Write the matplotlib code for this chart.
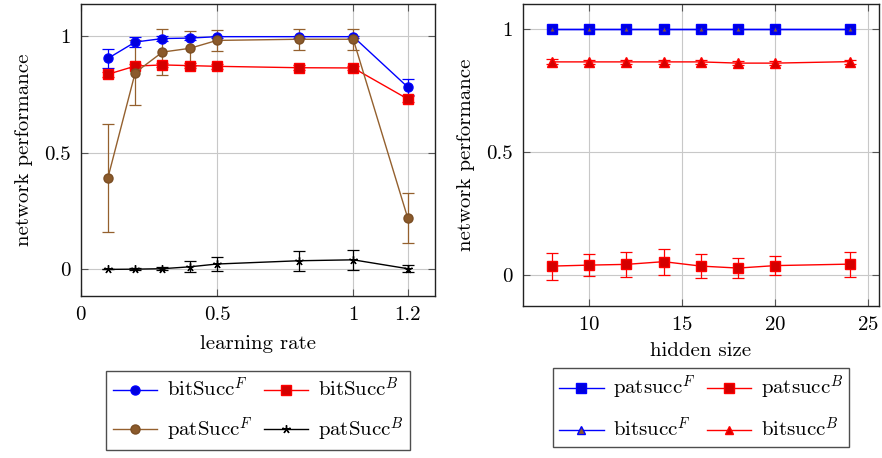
import matplotlib
matplotlib.use("Agg")
import matplotlib.pyplot as plt
from matplotlib.lines import Line2D
import numpy as np

plt.rcParams['font.family'] = ['cmr10', 'DejaVu Serif']
plt.rcParams['mathtext.fontset'] = 'cm'
plt.rcParams['axes.formatter.use_mathtext'] = True
plt.rcParams['axes.unicode_minus'] = False

# ---- Left panel data ----
lr = [0.1, 0.2, 0.3, 0.4, 0.5, 0.8, 1.0, 1.2]
bitF = [0.904, 0.974, 0.989, 0.991, 0.997, 0.997, 0.997, 0.781]
bitF_err = [0.04, 0.02, 0.01, 0.01, 0.005, 0.005, 0.005, 0.036]
bitB = [0.836, 0.871, 0.876, 0.873, 0.870, 0.864, 0.863, 0.730]
bitB_err = [0.01, 0.01, 0.01, 0.01, 0.01, 0.01, 0.01, 0.012]
patF = [0.393, 0.843, 0.931, 0.947, 0.981, 0.986, 0.986, 0.220]
patF_err = [0.232, 0.14, 0.10, 0.076, 0.045, 0.045, 0.044, 0.106]
patB = [0.0, 0.001, 0.003, 0.011, 0.023, 0.037, 0.041, 0.003]
patB_err = [0.0, 0.003, 0.006, 0.024, 0.032, 0.042, 0.043, 0.016]
lr_ticks = [0, 0.5, 1, 1.2]
lr_ticklabels = ['0', '0.5', '1', '1.2']

# ---- Right panel data ----
hs = [8, 10, 12, 14, 16, 18, 20, 24]
patsF = [1.0, 1.0, 1.0, 1.0, 1.0, 1.0, 1.0, 1.0]
patsB = [0.036, 0.040, 0.043, 0.054, 0.036, 0.028, 0.038, 0.044]
patsB_err = [0.055, 0.046, 0.052, 0.053, 0.049, 0.041, 0.040, 0.051]
bitsF = [1.0, 1.0, 1.0, 1.0, 1.0, 1.0, 1.0, 1.0]
bitsB = [0.865, 0.865, 0.865, 0.865, 0.865, 0.860, 0.860, 0.866]
bitsB_err = [0.01, 0.008, 0.008, 0.008, 0.008, 0.008, 0.008, 0.008]
hs_ticks = [10, 15, 20, 25]
y_ticks = [0, 0.5, 1]
y_ticklabels = ['0', '0.5', '1']

W, H = 882, 458
fig = plt.figure(figsize=(W / 100, H / 100), dpi=100)

def frac(l, r, t, b):
    return [l / W, 1 - b / H, (r - l) / W, (b - t) / H]

ax1 = fig.add_axes(frac(80.7, 435, 4, 296))
ax2 = fig.add_axes(frac(522.7, 879, 4, 306))

FS = 15
lw = 1.0
ms = 6.5
cs = 4.5
elw = 0.9

def style(ax):
    ax.grid(True, color='#c8c8c8', linewidth=0.8)
    ax.set_axisbelow(True)
    ax.tick_params(direction='in', top=True, right=True, labelsize=FS,
                   length=5, width=0.8, color='#555555', pad=7)
    for s in ax.spines.values():
        s.set_linewidth(1.0)
        s.set_color('#222222')

blue, red, brown, black = '#0000ff', '#ff0000', '#94602e', '#000000'
bluef, redf, brownf = '#0000dd', '#d40000', '#8b5a2b'
star = (5, 2, 0)

# Left
specs1 = [
    (bitF, bitF_err, blue, 'o', bluef, blue, ms, r'bitSucc$^F$'),
    (bitB, bitB_err, red, 's', redf, red, ms, r'bitSucc$^B$'),
    (patF, patF_err, brown, 'o', brownf, '#7a4e24', ms, r'patSucc$^F$'),
    (patB, patB_err, black, star, black, black, 6, r'patSucc$^B$'),
]
handles1 = []
for y, e, c, m, mf, me, s, lab in specs1:
    ax1.errorbar(lr, y, yerr=e, color=c, lw=lw, marker=m, ms=s, mfc=mf, mec=me,
                 capsize=cs, elinewidth=elw, capthick=elw)
    handles1.append(Line2D([], [], color=c, lw=lw, marker=m, ms=s, mfc=mf, mec=me, label=lab))
ax1.set_xlim(0, 1.3)
ax1.set_ylim(-0.114, 1.137)
ax1.set_xticks(lr_ticks)
ax1.set_xticklabels(lr_ticklabels)
ax1.set_yticks(y_ticks)
ax1.set_yticklabels(y_ticklabels)
ax1.set_xlabel('learning rate', fontsize=FS, labelpad=8)
ax1.set_ylabel('network performance', fontsize=FS, labelpad=8)
style(ax1)

# Right
ax2.errorbar(hs, patsF, color=blue, lw=lw, marker='s', ms=ms, mfc=bluef, mec=blue)
ax2.errorbar(hs, patsB, yerr=patsB_err, color=red, lw=lw, marker='s', ms=ms,
             mfc=redf, mec=red, capsize=cs, elinewidth=elw, capthick=elw)
ax2.errorbar(hs, bitsF, color=blue, lw=lw, marker='^', ms=ms * 0.55,
             mfc=brownf, mec=blue, mew=0.6)
ax2.errorbar(hs, bitsB, yerr=bitsB_err, color=red, lw=lw, marker='^', ms=ms,
             mfc=redf, mec=red, capsize=cs, elinewidth=elw, capthick=elw)
handles2 = [
    Line2D([], [], color=blue, lw=lw, marker='s', ms=ms, mfc=bluef, mec=blue, label=r'patsucc$^F$'),
    Line2D([], [], color=red, lw=lw, marker='s', ms=ms, mfc=redf, mec=red, label=r'patsucc$^B$'),
    Line2D([], [], color=blue, lw=lw, marker='^', ms=ms * 0.8, mfc=brownf, mec=blue, label=r'bitsucc$^F$'),
    Line2D([], [], color=red, lw=lw, marker='^', ms=ms * 0.8, mfc=redf, mec=red, label=r'bitsucc$^B$'),
]
ax2.set_xlim(6.42, 25.58)
ax2.set_ylim(-0.126, 1.10)
ax2.set_xticks(hs_ticks)
ax2.set_yticks(y_ticks)
ax2.set_yticklabels(y_ticklabels)
ax2.set_xlabel('hidden size', fontsize=FS, labelpad=6)
ax2.set_ylabel('network performance', fontsize=FS, labelpad=8)
style(ax2)

def rowwise(h):
    # matplotlib fills legends column by column; reorder for row-wise filling
    return [h[0], h[2], h[1], h[3]]

legkw = dict(ncol=2, fontsize=FS, frameon=True, fancybox=False, edgecolor='#222222',
             handlelength=2.15, columnspacing=0.55, handletextpad=0.45, borderpad=0.3,
             labelspacing=0.7, loc='upper center', borderaxespad=0)
l1 = fig.legend(handles=rowwise(handles1), bbox_to_anchor=(258 / W, 1 - 370.7 / H), **legkw)
l2 = fig.legend(handles=rowwise(handles2), bbox_to_anchor=(701 / W, 1 - 368 / H), **legkw)
for l in (l1, l2):
    l.get_frame().set_linewidth(1.0)

fig.savefig('out.png', dpi=100)
